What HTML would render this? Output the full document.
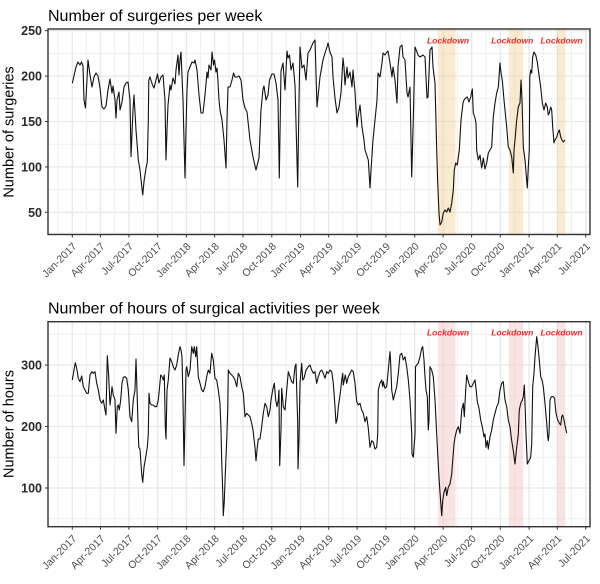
<!DOCTYPE html>
<html><head><meta charset="utf-8"><style>
html,body{margin:0;padding:0;background:#fff;}
svg{display:block;}
text{font-family:"Liberation Sans",Arial,sans-serif;}
.ttl{font-size:16px;fill:#000;}
.yt{font-size:12.5px;font-weight:bold;fill:#2b2b2b;text-anchor:end;}
.xt{font-size:10.5px;fill:#4d4d4d;text-anchor:end;}
.at{font-size:14.5px;fill:#000;text-anchor:middle;}
.ld{font-size:8.5px;font-weight:bold;font-style:italic;fill:#ee2a2a;text-anchor:middle;}
.gM{stroke:#e8e8e8;stroke-width:1.3;}
.gm{stroke:#efefef;stroke-width:1;}
.ln{fill:none;stroke:#111;stroke-width:1.1;stroke-linejoin:round;}
.tk{stroke:#333;stroke-width:1;}
</style></head><body>
<svg width="600" height="584" viewBox="0 0 600 584" xmlns="http://www.w3.org/2000/svg">
<rect width="600" height="584" fill="#fff"/>

<!-- ================= TOP PANEL ================= -->
<text class="ttl" x="48" y="21">Number of surgeries per week</text>
<g>
<line class="gm" x1="48" x2="590" y1="53.4" y2="53.4"/>
<line class="gm" x1="48" x2="590" y1="98.8" y2="98.8"/>
<line class="gm" x1="48" x2="590" y1="144.2" y2="144.2"/>
<line class="gm" x1="48" x2="590" y1="189.6" y2="189.6"/>
<line class="gm" x1="48" x2="590" y1="233" y2="233"/>
<line class="gM" x1="48" x2="590" y1="30.7" y2="30.7"/>
<line class="gM" x1="48" x2="590" y1="76.1" y2="76.1"/>
<line class="gM" x1="48" x2="590" y1="121.5" y2="121.5"/>
<line class="gM" x1="48" x2="590" y1="166.9" y2="166.9"/>
<line class="gM" x1="48" x2="590" y1="212.3" y2="212.3"/>
</g>
<g>
<line class="gm" x1="58.2" x2="58.2" y1="29" y2="234.5"/>
<line class="gm" x1="86.35" x2="86.35" y1="29" y2="234.5"/>
<line class="gm" x1="114.65" x2="114.65" y1="29" y2="234.5"/>
<line class="gm" x1="143.3" x2="143.3" y1="29" y2="234.5"/>
<line class="gm" x1="172.05" x2="172.05" y1="29" y2="234.5"/>
<line class="gm" x1="200.5" x2="200.5" y1="29" y2="234.5"/>
<line class="gm" x1="228.8" x2="228.8" y1="29" y2="234.5"/>
<line class="gm" x1="257.4" x2="257.4" y1="29" y2="234.5"/>
<line class="gm" x1="286.2" x2="286.2" y1="29" y2="234.5"/>
<line class="gm" x1="314.65" x2="314.65" y1="29" y2="234.5"/>
<line class="gm" x1="342.9" x2="342.9" y1="29" y2="234.5"/>
<line class="gm" x1="371.5" x2="371.5" y1="29" y2="234.5"/>
<line class="gm" x1="400.3" x2="400.3" y1="29" y2="234.5"/>
<line class="gm" x1="428.9" x2="428.9" y1="29" y2="234.5"/>
<line class="gm" x1="457.35" x2="457.35" y1="29" y2="234.5"/>
<line class="gm" x1="485.95" x2="485.95" y1="29" y2="234.5"/>
<line class="gm" x1="514.7" x2="514.7" y1="29" y2="234.5"/>
<line class="gm" x1="543.2" x2="543.2" y1="29" y2="234.5"/>
<line class="gm" x1="571.5" x2="571.5" y1="29" y2="234.5"/>
<line class="gM" x1="72.3" x2="72.3" y1="29" y2="234.5"/>
<line class="gM" x1="100.4" x2="100.4" y1="29" y2="234.5"/>
<line class="gM" x1="128.9" x2="128.9" y1="29" y2="234.5"/>
<line class="gM" x1="157.7" x2="157.7" y1="29" y2="234.5"/>
<line class="gM" x1="186.4" x2="186.4" y1="29" y2="234.5"/>
<line class="gM" x1="214.6" x2="214.6" y1="29" y2="234.5"/>
<line class="gM" x1="243" x2="243" y1="29" y2="234.5"/>
<line class="gM" x1="271.8" x2="271.8" y1="29" y2="234.5"/>
<line class="gM" x1="300.6" x2="300.6" y1="29" y2="234.5"/>
<line class="gM" x1="328.7" x2="328.7" y1="29" y2="234.5"/>
<line class="gM" x1="357.1" x2="357.1" y1="29" y2="234.5"/>
<line class="gM" x1="385.9" x2="385.9" y1="29" y2="234.5"/>
<line class="gM" x1="414.7" x2="414.7" y1="29" y2="234.5"/>
<line class="gM" x1="443.1" x2="443.1" y1="29" y2="234.5"/>
<line class="gM" x1="471.6" x2="471.6" y1="29" y2="234.5"/>
<line class="gM" x1="500.3" x2="500.3" y1="29" y2="234.5"/>
<line class="gM" x1="529.1" x2="529.1" y1="29" y2="234.5"/>
<line class="gM" x1="557.3" x2="557.3" y1="29" y2="234.5"/>
<line class="gM" x1="585.7" x2="585.7" y1="29" y2="234.5"/>
</g>
<g fill="rgba(243,210,150,0.45)">
<rect x="437.8" y="29" width="17.7" height="205.5"/>
<rect x="508.8" y="29" width="14.4" height="205.5"/>
<rect x="557" y="29" width="8.5" height="205.5"/>
</g>
<text class="ld" x="448" y="43.5">Lockdown</text>
<text class="ld" x="512.3" y="43.5">Lockdown</text>
<text class="ld" x="561.5" y="43.5">Lockdown</text>
<polyline class="ln" points="72.3,83.3 76,67 78,62 80,65 81.5,62 83,66 84,100 85.5,108 88,60 90,75 92,87 94,77 96,73 98,76 100,88 102,107 104,109 106,106 108,90 110,79 112,93 113,86 115,100 116,118 117,100 119,92 120,110 122,102 124,87 126,83 128,82 130,100 131,156.7 133,110 134,95 136,130 138.3,160 140,170 142.7,195 144,181.7 145.7,170 147.3,161.7 148.3,120 148.8,80 150,77 152.5,85 154,88 156,80 157.5,74 159,83 161,77 163,75 165,100 166,160 167,130 168,105 170,85 171,90 173,78 175,84 176,70 178,55 179,75 180,60 181,52 183,100 184,140 185,178 186,130 187,90 188,72 190,67 192,62 194,63 195,60 197,70 199,95 201,113 203,113 205,95 207,72 208,78 209,65 211,70 212,52 213.5,65 214.5,60 216,72 217,68 218,82 219,100 220,110 222,120 224,140 226,168 227,120 228,87 230,87 232,80 233.5,73 235,77 237,77 239,76 241,80 243,100 245,108 247,112 250,140 253,157 256,170 259,158 261,110 263,89 264,86 266,100 268,95 269.5,80 272,74 274,74 276,83 278,100 279.3,178 281,71 283,63 285,90 287,51 288,58 289.5,55 291,70 293,63 295,85 297.7,187 299,100 300,47 302,68 304,65 306,80 308,53 310,50 313,43 315,40 317,107 320,77 323,60 325,53 327,47 328,43 330,52 332,57 333,77 335,98 337,113 339,107 341,93 343,58 344,67 345,85 347,67 348,78 350,72 352,87 353,70 355,92 357,127 358,117 360,105 362,127 364,140 365,150 368.3,160 370,188 371,170 373,140 375,120 377,100 378,73 380,77 382,63 383,53 385,55 387,52 388,51 390,63 392,77 393,67 395,80 397,103 398,67 400,47 402,45 403,57 405,60 406,77 407,93 408,97 410,87 411.7,177 413,130 415,47 417,52 418,55 420,57 423,55 425,57 427,98 428,97 430,50 432,47 433,67 435,83 436.7,150 437.7,183 439,213 440,225 441.7,222 443.3,213 445,210 446.7,212 448.3,208 450,212 451.7,203 453.3,190 454.3,170 455.7,163 457.3,165 459.3,150 461,120 463,103 464,100 465.7,98 467.3,97 469,102 470.7,97 472.3,89 473.3,113 475,118 476,123 476.7,150 478.3,160 480,155 481.7,168 483.3,158 485,169 486.7,163 488.3,153 490,150 491.7,147 493.3,117 495,103 496.7,93 498.3,87 500,63 501,73 502.3,80 504,100 506.7,127 508.3,147 510,150 511.7,157 513.3,173 514,150 515,140 516.7,120 518.3,107 520,103 521,80 522,100 523.3,147 525,160 527.3,188 528.3,167 529.3,150 529.8,77 530.7,70 531.7,73 532.7,57 534,52 535.7,55 537.3,62 539.3,77 540.7,87 542.3,103 544,110 545.7,103 547.3,107 548.3,115 549.3,113 550.7,107 551.7,110 552.7,127 554,143 555,140 556.7,137 558.3,132 559.3,130 560.7,137 562,140 563.3,142 565,140"/>
<rect x="48" y="29" width="542" height="205.5" fill="none" stroke="#333" stroke-width="1.4"/>
<g class="tk">
<line x1="45" x2="48" y1="30.7" y2="30.7"/><line x1="45" x2="48" y1="76.1" y2="76.1"/><line x1="45" x2="48" y1="121.5" y2="121.5"/><line x1="45" x2="48" y1="166.9" y2="166.9"/><line x1="45" x2="48" y1="212.3" y2="212.3"/>
</g>
<text class="yt" x="42" y="35.2">250</text>
<text class="yt" x="42" y="80.6">200</text>
<text class="yt" x="42" y="126">150</text>
<text class="yt" x="42" y="171.4">100</text>
<text class="yt" x="42" y="216.8">50</text>
<text class="at" transform="translate(13.5,132) rotate(-90)">Number of surgeries</text>
<g class="tk">
<line x1="72.3" x2="72.3" y1="234.5" y2="237.5"/><line x1="100.4" x2="100.4" y1="234.5" y2="237.5"/><line x1="128.9" x2="128.9" y1="234.5" y2="237.5"/><line x1="157.7" x2="157.7" y1="234.5" y2="237.5"/><line x1="186.4" x2="186.4" y1="234.5" y2="237.5"/><line x1="214.6" x2="214.6" y1="234.5" y2="237.5"/><line x1="243" x2="243" y1="234.5" y2="237.5"/><line x1="271.8" x2="271.8" y1="234.5" y2="237.5"/><line x1="300.6" x2="300.6" y1="234.5" y2="237.5"/><line x1="328.7" x2="328.7" y1="234.5" y2="237.5"/><line x1="357.1" x2="357.1" y1="234.5" y2="237.5"/><line x1="385.9" x2="385.9" y1="234.5" y2="237.5"/><line x1="414.7" x2="414.7" y1="234.5" y2="237.5"/><line x1="443.1" x2="443.1" y1="234.5" y2="237.5"/><line x1="471.6" x2="471.6" y1="234.5" y2="237.5"/><line x1="500.3" x2="500.3" y1="234.5" y2="237.5"/><line x1="529.1" x2="529.1" y1="234.5" y2="237.5"/><line x1="557.3" x2="557.3" y1="234.5" y2="237.5"/><line x1="585.7" x2="585.7" y1="234.5" y2="237.5"/>
</g>
<text class="xt" transform="translate(77.3,247) rotate(-45)">Jan-2017</text>
<text class="xt" transform="translate(105.4,247) rotate(-45)">Apr-2017</text>
<text class="xt" transform="translate(133.9,247) rotate(-45)">Jul-2017</text>
<text class="xt" transform="translate(162.7,247) rotate(-45)">Oct-2017</text>
<text class="xt" transform="translate(191.4,247) rotate(-45)">Jan-2018</text>
<text class="xt" transform="translate(219.6,247) rotate(-45)">Apr-2018</text>
<text class="xt" transform="translate(248,247) rotate(-45)">Jul-2018</text>
<text class="xt" transform="translate(276.8,247) rotate(-45)">Oct-2018</text>
<text class="xt" transform="translate(305.6,247) rotate(-45)">Jan-2019</text>
<text class="xt" transform="translate(333.7,247) rotate(-45)">Apr-2019</text>
<text class="xt" transform="translate(362.1,247) rotate(-45)">Jul-2019</text>
<text class="xt" transform="translate(390.9,247) rotate(-45)">Oct-2019</text>
<text class="xt" transform="translate(419.7,247) rotate(-45)">Jan-2020</text>
<text class="xt" transform="translate(448.1,247) rotate(-45)">Apr-2020</text>
<text class="xt" transform="translate(476.6,247) rotate(-45)">Jul-2020</text>
<text class="xt" transform="translate(505.3,247) rotate(-45)">Oct-2020</text>
<text class="xt" transform="translate(534.1,247) rotate(-45)">Jan-2021</text>
<text class="xt" transform="translate(562.3,247) rotate(-45)">Apr-2021</text>
<text class="xt" transform="translate(590.7,247) rotate(-45)">Jul-2021</text>

<!-- ================= BOTTOM PANEL ================= -->
<text class="ttl" x="48" y="313.5">Number of hours of surgical activities per week</text>
<g>
<line class="gm" x1="48" x2="590" y1="334.3" y2="334.3"/>
<line class="gm" x1="48" x2="590" y1="395.75" y2="395.75"/>
<line class="gm" x1="48" x2="590" y1="457.25" y2="457.25"/>
<line class="gm" x1="48" x2="590" y1="518.75" y2="518.75"/>
<line class="gM" x1="48" x2="590" y1="365" y2="365"/>
<line class="gM" x1="48" x2="590" y1="426.5" y2="426.5"/>
<line class="gM" x1="48" x2="590" y1="488" y2="488"/>
</g>
<g>
<line class="gm" x1="58.2" x2="58.2" y1="321.7" y2="526.7"/>
<line class="gm" x1="86.35" x2="86.35" y1="321.7" y2="526.7"/>
<line class="gm" x1="114.65" x2="114.65" y1="321.7" y2="526.7"/>
<line class="gm" x1="143.3" x2="143.3" y1="321.7" y2="526.7"/>
<line class="gm" x1="172.05" x2="172.05" y1="321.7" y2="526.7"/>
<line class="gm" x1="200.5" x2="200.5" y1="321.7" y2="526.7"/>
<line class="gm" x1="228.8" x2="228.8" y1="321.7" y2="526.7"/>
<line class="gm" x1="257.4" x2="257.4" y1="321.7" y2="526.7"/>
<line class="gm" x1="286.2" x2="286.2" y1="321.7" y2="526.7"/>
<line class="gm" x1="314.65" x2="314.65" y1="321.7" y2="526.7"/>
<line class="gm" x1="342.9" x2="342.9" y1="321.7" y2="526.7"/>
<line class="gm" x1="371.5" x2="371.5" y1="321.7" y2="526.7"/>
<line class="gm" x1="400.3" x2="400.3" y1="321.7" y2="526.7"/>
<line class="gm" x1="428.9" x2="428.9" y1="321.7" y2="526.7"/>
<line class="gm" x1="457.35" x2="457.35" y1="321.7" y2="526.7"/>
<line class="gm" x1="485.95" x2="485.95" y1="321.7" y2="526.7"/>
<line class="gm" x1="514.7" x2="514.7" y1="321.7" y2="526.7"/>
<line class="gm" x1="543.2" x2="543.2" y1="321.7" y2="526.7"/>
<line class="gm" x1="571.5" x2="571.5" y1="321.7" y2="526.7"/>
<line class="gM" x1="72.3" x2="72.3" y1="321.7" y2="526.7"/>
<line class="gM" x1="100.4" x2="100.4" y1="321.7" y2="526.7"/>
<line class="gM" x1="128.9" x2="128.9" y1="321.7" y2="526.7"/>
<line class="gM" x1="157.7" x2="157.7" y1="321.7" y2="526.7"/>
<line class="gM" x1="186.4" x2="186.4" y1="321.7" y2="526.7"/>
<line class="gM" x1="214.6" x2="214.6" y1="321.7" y2="526.7"/>
<line class="gM" x1="243" x2="243" y1="321.7" y2="526.7"/>
<line class="gM" x1="271.8" x2="271.8" y1="321.7" y2="526.7"/>
<line class="gM" x1="300.6" x2="300.6" y1="321.7" y2="526.7"/>
<line class="gM" x1="328.7" x2="328.7" y1="321.7" y2="526.7"/>
<line class="gM" x1="357.1" x2="357.1" y1="321.7" y2="526.7"/>
<line class="gM" x1="385.9" x2="385.9" y1="321.7" y2="526.7"/>
<line class="gM" x1="414.7" x2="414.7" y1="321.7" y2="526.7"/>
<line class="gM" x1="443.1" x2="443.1" y1="321.7" y2="526.7"/>
<line class="gM" x1="471.6" x2="471.6" y1="321.7" y2="526.7"/>
<line class="gM" x1="500.3" x2="500.3" y1="321.7" y2="526.7"/>
<line class="gM" x1="529.1" x2="529.1" y1="321.7" y2="526.7"/>
<line class="gM" x1="557.3" x2="557.3" y1="321.7" y2="526.7"/>
<line class="gM" x1="585.7" x2="585.7" y1="321.7" y2="526.7"/>
</g>
<g fill="rgba(245,199,199,0.5)">
<rect x="437.8" y="321.7" width="17.7" height="205"/>
<rect x="508.8" y="321.7" width="14.4" height="205"/>
<rect x="557" y="321.7" width="8.5" height="205"/>
</g>
<text class="ld" x="448" y="335.5">Lockdown</text>
<text class="ld" x="512.3" y="335.5">Lockdown</text>
<text class="ld" x="561.5" y="335.5">Lockdown</text>
<polyline class="ln" points="72.3,380 74,370 75.3,362.7 76.7,368.3 78.3,378.3 80,381.7 81.7,376 83.3,386.7 85,390 86.7,393.3 88.3,393.3 90,375 91.7,371.7 93.3,373.3 95,371.7 96.7,383.3 98.3,390 100,400 101.7,403.3 103.3,400 105,410 106,415 107.3,355.7 108.7,376.7 110,405 111,396.7 112,386.7 113.3,395 115,400 116,433.3 117.3,406.7 118.3,405 119.3,410 120.7,400 122,383.3 123.3,377.3 125,376.7 126.7,378.3 128.3,390 130,416.7 131.7,421.7 133.3,400 135,390 136,359 137.3,400 138.3,434 138.8,447.3 140,449 141.7,474 142.7,482.3 144,467.3 145.7,457.3 147.3,447.3 148.3,434 149,393.3 150,403.3 151.7,405 153.3,405 155,406.7 156.7,406.7 158.3,400 159.3,390 160.7,375 162,376.7 163.3,380 164.3,375 165.3,426.7 166,439 167,390 168.3,380 170,358 171.7,361.7 173.3,366.7 175,370 176.7,365 178.3,355 180,346.7 181,350 182,356.7 183,400 184,465.7 185,420 186,370 186.7,366.7 188.3,376.7 190,370 191.7,346.7 193.3,353.3 194.3,346.7 195.7,356.7 196.7,346.7 198.3,376.7 200,383.3 201.7,390 203.3,391.7 205,386.7 206.7,376.7 208.3,370 210,373.3 211.7,353.3 213.3,360 215,378.3 216.7,380 218.3,390 220,403.3 221,430 221.7,460.7 222.7,490.7 223.3,515.7 224.3,500.7 225.3,474 226.7,440.7 227.7,410 228.3,370 230,373.3 231.7,375 233.3,376.7 235,380 236.7,386.7 238.3,373.3 240,376.7 241.7,386.7 243.3,393.3 245,416.7 246.7,413.3 248.3,415 250,416.7 251.7,423.3 253,430 255,447.3 256,460.7 257.3,447.3 258.3,439 260,439 261.7,426.7 263.3,413.3 265,403.3 266.7,406.7 268.3,416.7 270,410 271,400 272.7,390 274.3,383.3 275.7,400 277,406.7 278.3,400 279,390 279.3,430 279.7,465.7 281,430 281.7,388.3 283.3,406.7 285,410 286.7,390 288.3,371.7 290,376.7 291.7,381.7 293.3,383.3 295,366.7 296,364 296.7,390 297.7,423 298,469 299,440 300,383.3 301.7,363.3 302.7,380 304,378.3 306,370 308.3,366.7 310,365 311.7,370 313.3,373.3 315,371.7 316.7,383.3 318.3,376.7 320,371.7 321.7,370 323.3,373.3 325,378.3 326.7,371.7 328.3,373.3 330,370 331.7,371.7 333.3,383.3 335,406.7 336,423.3 337.3,418.3 338.3,406.7 339.3,400 340.7,390 341.7,380 342.7,373.3 343.3,385 344.3,380 345.3,375 346.7,383.3 348.3,376.7 350,373.3 351.7,370 353.3,371.7 355,383.3 356.7,401.7 358.3,405 360,403.3 361.7,410 363.3,413.3 365,421.7 366.7,416.7 368.3,428.3 370,447.3 371.7,440.7 373.3,442.3 375,449 376.7,447.3 377.7,434 378.3,390 380,383.3 381.7,380 382.7,386.7 383.3,381.7 385,388.3 386.7,386.7 388.3,370 390,351.7 390.7,363.3 391.7,390 393.3,400 395,393.3 396.7,386.7 398.3,373.3 400,355 401.7,353.3 403.3,360 405,356.7 406.7,366.7 408.3,380 410,400 411.7,433.3 412,454 413.3,457.3 415,434 415.5,366.7 416.7,365 418.3,363.3 420,356.7 421.7,348.3 422.7,346.7 424,360 425,376.7 426,390 427.3,396.7 428.3,430 429,420 430,366.7 431.7,370 433.3,376.7 435,400 436.7,434 437.7,454 439,477.3 440,492.3 441.7,515.7 442.7,500.7 444,492.3 445.7,487.3 446.7,495.7 448.3,487.3 450,484 451.7,474 452.7,460.7 454,444 455,437.3 456.7,430 458.3,426.7 460,433.3 461.7,410 463.3,403.3 464.3,416.7 465.7,390 466.7,375 468.3,381.7 470,386.7 471.7,386.7 473.3,383.3 475,380 476,388.3 477.3,401.7 479,408.3 480.7,420 482.3,426.7 484,436.7 485,434 486,447.3 487.3,440.7 488.3,449 490,436.7 491.7,430 493.3,420 495,413.3 496.7,406.7 498.3,403.3 500,390 501.7,383.3 503.3,381.7 504,390 505,400 506.7,406.7 508.3,420 510,426.7 511.7,440.7 513.3,450.7 515,464 516.7,447.3 518.3,434 519.3,410 520.7,403.3 522.3,400 523.3,396.7 524.3,385 525,403.3 526,433.3 527.3,464 529,460.7 530.7,457.3 531.7,444 532.7,386.7 534,373.3 535,356.7 536.7,336.7 538,346.7 539.3,360 540.7,376.7 542,380 543.3,386.7 545,403.3 546.7,423.3 547.7,436.7 548.3,440.7 549,434 550,400 551.3,396.7 553.3,396.7 554.7,398.3 555,403.3 556,413.3 557.7,420 559.3,423.3 560.7,425 561.7,416.7 562.7,415 564,420 565,425 566.7,433.3"/>
<rect x="48" y="321.7" width="542" height="205" fill="none" stroke="#333" stroke-width="1.4"/>
<g class="tk">
<line x1="45" x2="48" y1="365" y2="365"/><line x1="45" x2="48" y1="426.5" y2="426.5"/><line x1="45" x2="48" y1="488" y2="488"/>
</g>
<text class="yt" x="42" y="369.5">300</text>
<text class="yt" x="42" y="431">200</text>
<text class="yt" x="42" y="492.5">100</text>
<text class="at" transform="translate(13.5,424) rotate(-90)">Number of hours</text>
<g class="tk">
<line x1="72.3" x2="72.3" y1="526.7" y2="529.7"/><line x1="100.4" x2="100.4" y1="526.7" y2="529.7"/><line x1="128.9" x2="128.9" y1="526.7" y2="529.7"/><line x1="157.7" x2="157.7" y1="526.7" y2="529.7"/><line x1="186.4" x2="186.4" y1="526.7" y2="529.7"/><line x1="214.6" x2="214.6" y1="526.7" y2="529.7"/><line x1="243" x2="243" y1="526.7" y2="529.7"/><line x1="271.8" x2="271.8" y1="526.7" y2="529.7"/><line x1="300.6" x2="300.6" y1="526.7" y2="529.7"/><line x1="328.7" x2="328.7" y1="526.7" y2="529.7"/><line x1="357.1" x2="357.1" y1="526.7" y2="529.7"/><line x1="385.9" x2="385.9" y1="526.7" y2="529.7"/><line x1="414.7" x2="414.7" y1="526.7" y2="529.7"/><line x1="443.1" x2="443.1" y1="526.7" y2="529.7"/><line x1="471.6" x2="471.6" y1="526.7" y2="529.7"/><line x1="500.3" x2="500.3" y1="526.7" y2="529.7"/><line x1="529.1" x2="529.1" y1="526.7" y2="529.7"/><line x1="557.3" x2="557.3" y1="526.7" y2="529.7"/><line x1="585.7" x2="585.7" y1="526.7" y2="529.7"/>
</g>
<text class="xt" transform="translate(77.3,539.2) rotate(-45)">Jan-2017</text>
<text class="xt" transform="translate(105.4,539.2) rotate(-45)">Apr-2017</text>
<text class="xt" transform="translate(133.9,539.2) rotate(-45)">Jul-2017</text>
<text class="xt" transform="translate(162.7,539.2) rotate(-45)">Oct-2017</text>
<text class="xt" transform="translate(191.4,539.2) rotate(-45)">Jan-2018</text>
<text class="xt" transform="translate(219.6,539.2) rotate(-45)">Apr-2018</text>
<text class="xt" transform="translate(248,539.2) rotate(-45)">Jul-2018</text>
<text class="xt" transform="translate(276.8,539.2) rotate(-45)">Oct-2018</text>
<text class="xt" transform="translate(305.6,539.2) rotate(-45)">Jan-2019</text>
<text class="xt" transform="translate(333.7,539.2) rotate(-45)">Apr-2019</text>
<text class="xt" transform="translate(362.1,539.2) rotate(-45)">Jul-2019</text>
<text class="xt" transform="translate(390.9,539.2) rotate(-45)">Oct-2019</text>
<text class="xt" transform="translate(419.7,539.2) rotate(-45)">Jan-2020</text>
<text class="xt" transform="translate(448.1,539.2) rotate(-45)">Apr-2020</text>
<text class="xt" transform="translate(476.6,539.2) rotate(-45)">Jul-2020</text>
<text class="xt" transform="translate(505.3,539.2) rotate(-45)">Oct-2020</text>
<text class="xt" transform="translate(534.1,539.2) rotate(-45)">Jan-2021</text>
<text class="xt" transform="translate(562.3,539.2) rotate(-45)">Apr-2021</text>
<text class="xt" transform="translate(590.7,539.2) rotate(-45)">Jul-2021</text>
</svg>
</body></html>
